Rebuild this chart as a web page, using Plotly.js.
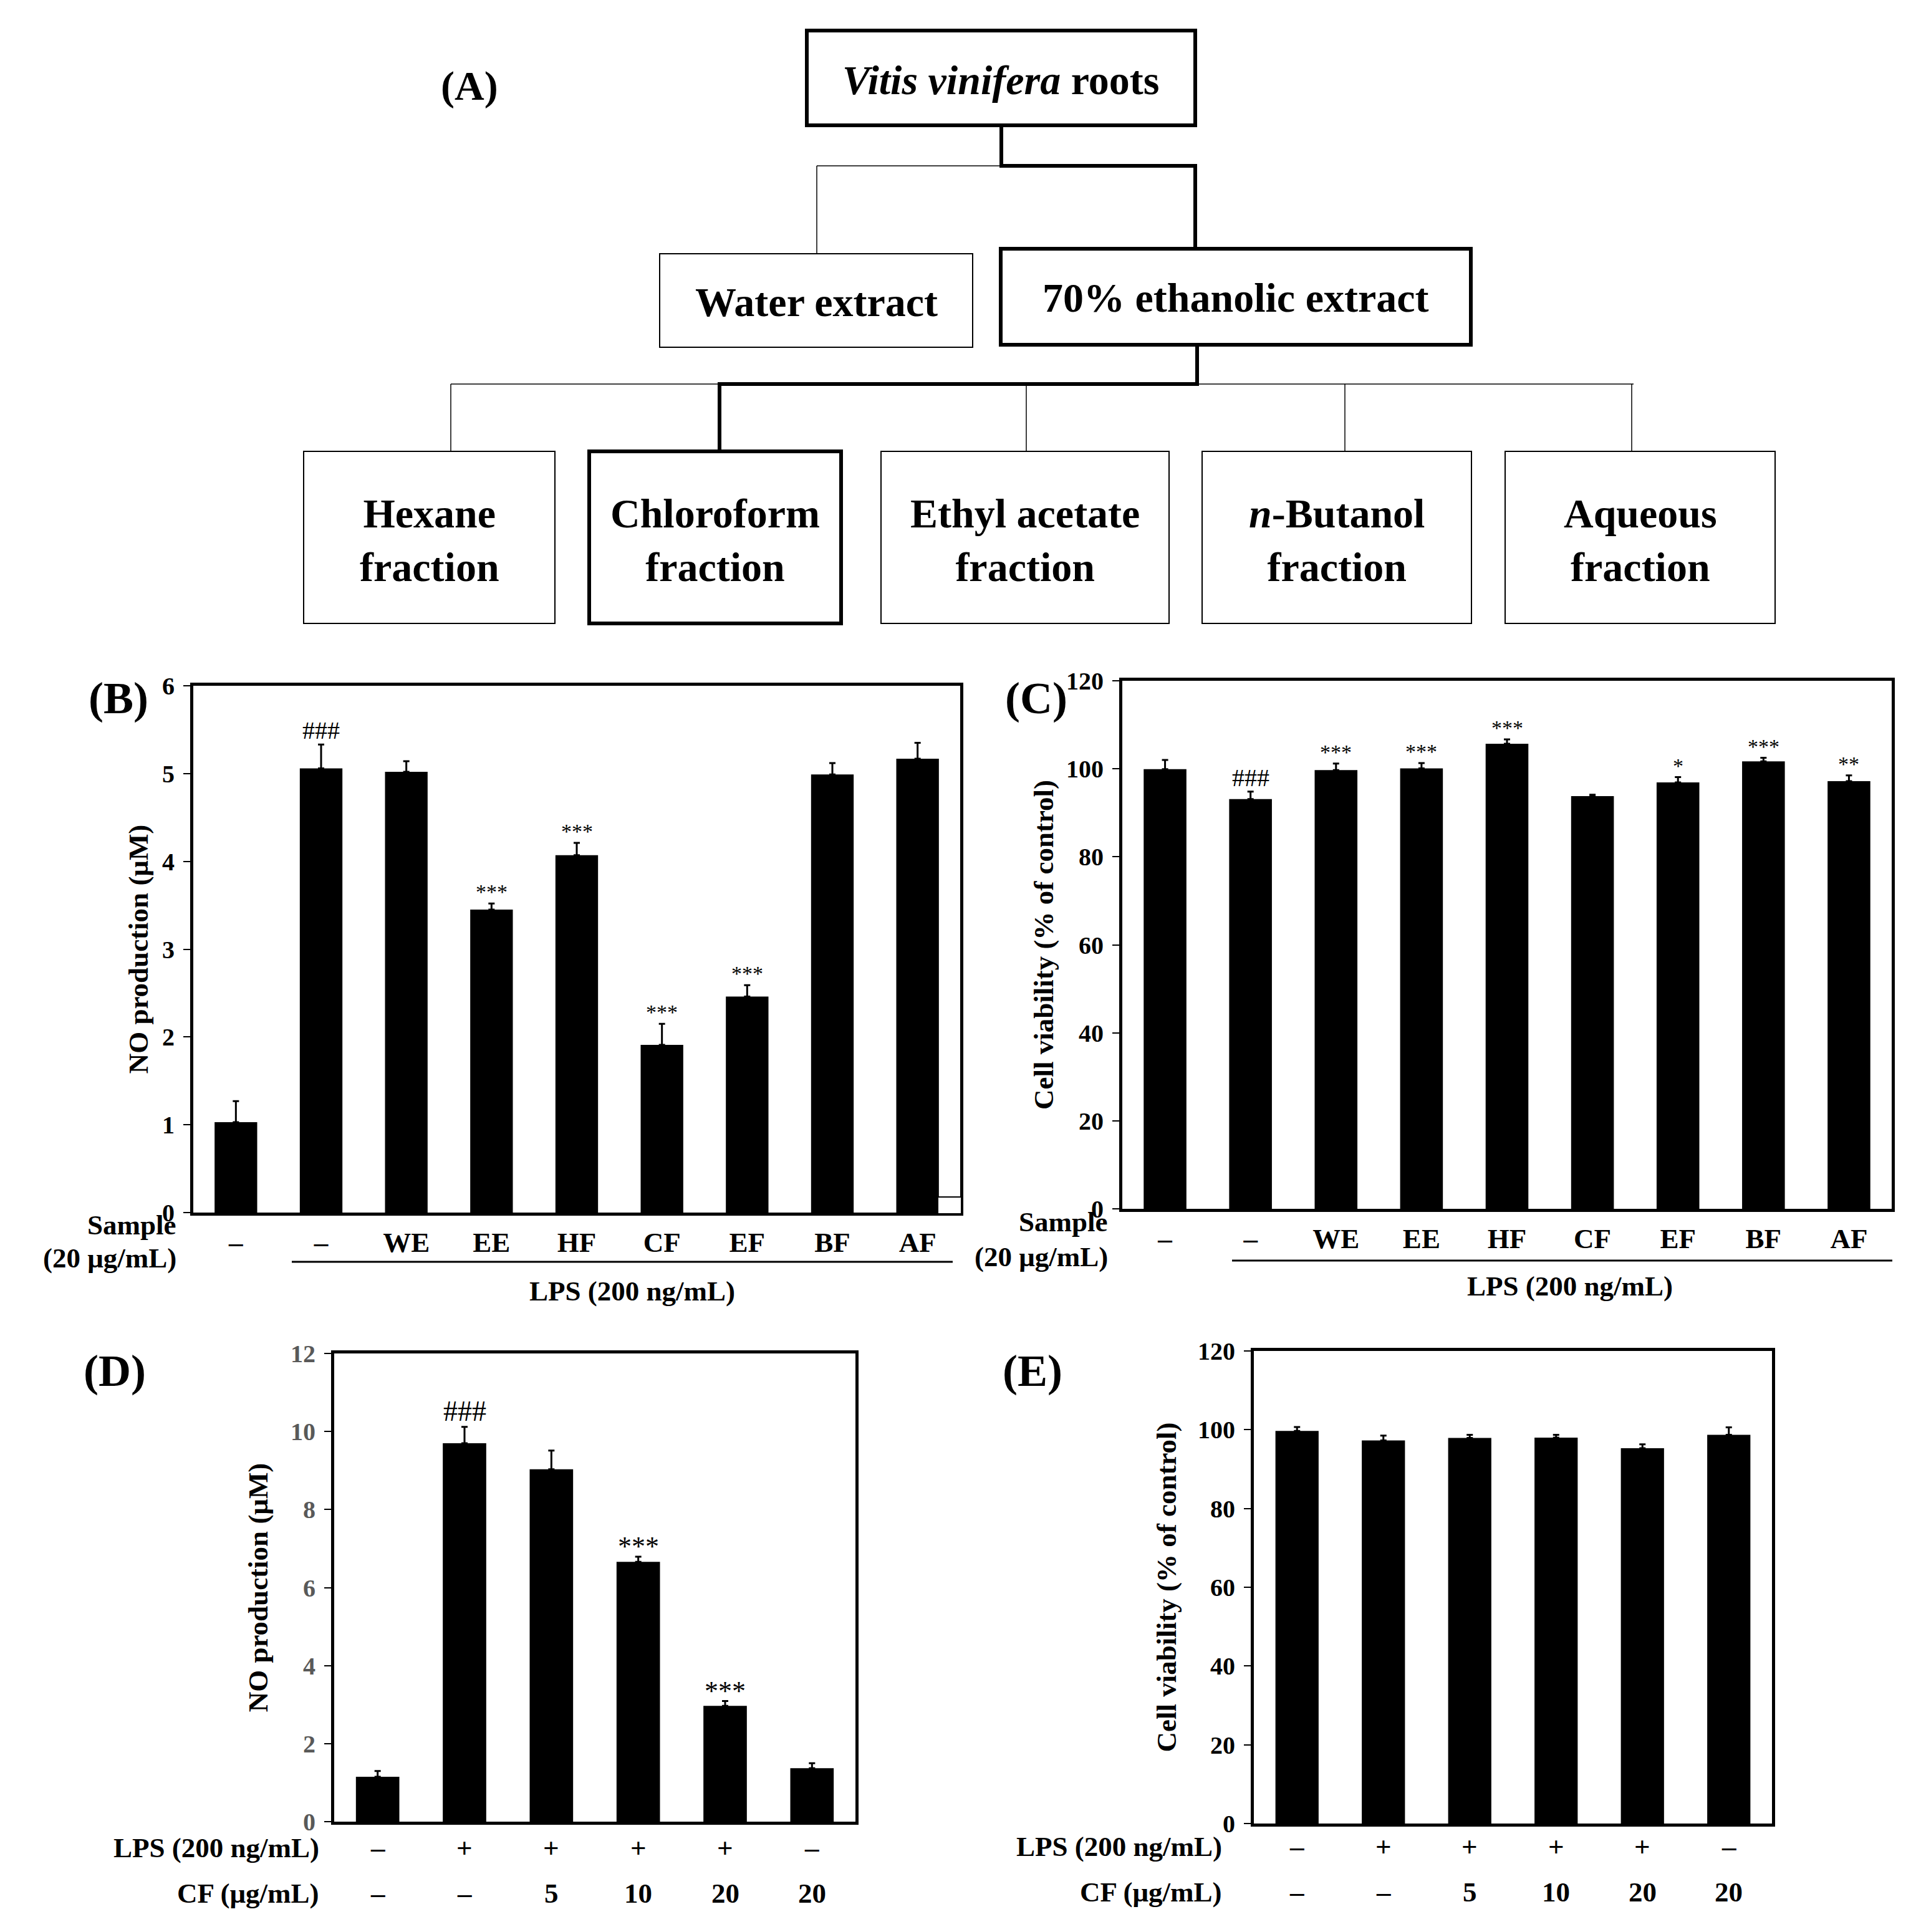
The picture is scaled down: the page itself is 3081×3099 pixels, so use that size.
<!DOCTYPE html>
<html>
<head>
<meta charset="utf-8">
<script src="https://cdn.plot.ly/plotly-3.0.1.min.js"></script>
<style>html,body{margin:0;padding:0;background:#fff;}#chart{width:3081px;height:3099px;}</style>
</head>
<body>
<div id="chart"></div>
<script>
// ---------------- DATA ----------------
// Panel B: NO production (µM)
const bCategories = ['Control', 'LPS', 'WE', 'EE', 'HF', 'CF', 'EF', 'BF', 'AF'];
const bLabels = ['–', '–', 'WE', 'EE', 'HF', 'CF', 'EF', 'BF', 'AF'];
const bValues = [1.03, 5.06, 5.02, 3.45, 4.07, 1.91, 2.46, 4.99, 5.17];
const bErrors = [0.24, 0.27, 0.12, 0.07, 0.14, 0.24, 0.13, 0.13, 0.18];
const bMarks = ['', '###', '', '***', '***', '***', '***', '', ''];

// Panel C: Cell viability (% of control)
const cCategories = bCategories;
const cLabels = bLabels;
const cValues = [99.9, 93.1, 99.7, 100.1, 105.7, 93.8, 96.9, 101.7, 97.2];
const cErrors = [2.1, 1.7, 1.5, 1.2, 1.0, 0.3, 1.2, 0.8, 1.3];
const cMarks = ['', '###', '***', '***', '***', '', '*', '***', '**'];

// Panels D & E: treatment rows
const lpsRow = ['–', '+', '+', '+', '+', '–'];
const cfRow = ['–', '–', '5', '10', '20', '20'];
const deCategories = lpsRow.map((l, i) => 'LPS ' + l + ' / CF ' + cfRow[i]);

// Panel D: NO production (µM)
const dValues = [1.15, 9.70, 9.03, 6.66, 2.97, 1.37];
const dErrors = [0.15, 0.42, 0.48, 0.13, 0.12, 0.13];
const dMarks = ['', '###', '', '***', '***', ''];

// Panel E: Cell viability (% of control)
const eValues = [99.7, 97.3, 97.9, 98.0, 95.3, 98.7];
const eErrors = [1.0, 1.2, 0.8, 0.7, 1.0, 1.9];

// Flowchart text (panel A)
const rootLabel = '<i>Vitis vinifera</i> roots';
const extractLabels = ['Water extract', '70% ethanolic extract'];
const fractionLabels = ['Hexane<br>fraction', 'Chloroform<br>fraction', 'Ethyl acetate<br>fraction', '<i>n</i>-Butanol<br>fraction', 'Aqueous<br>fraction'];

// ---------------- LAYOUT HELPERS ----------------
const W = 3081, H = 3099;
const px = x => x / W;
const py = y => 1 - y / H;
const FONT = 'Liberation Serif, Times New Roman, serif';
const BOLD = (size, color) => ({family: FONT, size: size, color: color || '#000', weight: 'bold'});

const shapes = [];
const annotations = [];

function rect(x0, y0, x1, y1, w) {
  shapes.push({type: 'rect', xref: 'paper', yref: 'paper', x0: px(x0), x1: px(x1), y0: py(y1), y1: py(y0),
    line: {color: '#000', width: w}, fillcolor: 'rgba(0,0,0,0)'});
}
function line(x0, y0, x1, y1, w) {
  shapes.push({type: 'line', xref: 'paper', yref: 'paper', x0: px(x0), x1: px(x1), y0: py(y0), y1: py(y1),
    line: {color: '#000', width: w}});
}
function text(t, x, y, size, opts) {
  annotations.push(Object.assign({text: t, xref: 'paper', yref: 'paper', x: px(x), y: py(y),
    showarrow: false, font: BOLD(size), xanchor: 'center', yanchor: 'middle'}, opts || {}));
}

// ---------------- PANEL A: flowchart ----------------
text('(A)', 753, 138, 66);
rect(1294, 49, 1917, 201, 6);
text(rootLabel, 1605, 128, 66);
line(1606, 201, 1606, 266, 6);
line(1310, 266, 1606, 266, 1.5);
line(1603, 266, 1920, 266, 6);
line(1917, 263, 1917, 399, 6);
line(1310, 266, 1310, 407, 1.5);
rect(1058, 407, 1560, 557, 2);
text(extractLabels[0], 1309, 484, 66);
rect(1605, 399, 2359, 553, 6);
text(extractLabels[1], 1982, 478, 66);
line(1920, 553, 1920, 616, 6);
line(723, 616, 2620, 616, 1.5);
line(1151, 616, 1923, 616, 6);
const fracBoxes = [[487, 890, 2], [945, 1349, 6], [1413, 1875, 2], [1928, 2360, 2], [2414, 2847, 2]];
const fracLinkX = [723, 1154, 1646, 2157, 2617];
fracBoxes.forEach((b, i) => {
  line(fracLinkX[i], 616, fracLinkX[i], 724, i === 1 ? 6 : 1.5);
  rect(b[0], 724, b[1], 1000, b[2]);
  text(fractionLabels[i], (b[0] + b[1]) / 2, 866, 66);
});

// ---------------- AXES ----------------
function yAxis(domain, range, dtick, anchor, title, tickColor, standoff) {
  return {domain: [py(domain[1]), py(domain[0])], range: range, dtick: dtick, tick0: 0, anchor: anchor,
    showline: true, mirror: true, linecolor: '#000', linewidth: 5, ticks: 'outside', ticklen: 11, tickwidth: 2,
    tickcolor: '#000', showgrid: false, zeroline: false, fixedrange: true,
    tickfont: BOLD(40, tickColor), ticklabelstandoff: 6,
    title: {text: title, font: BOLD(45), standoff: standoff}};
}
function xAxis(domain, anchor, cats, labels, showLabels) {
  return {domain: [px(domain[0]), px(domain[1])], anchor: anchor, type: 'category',
    categoryorder: 'array', categoryarray: cats, tickvals: cats, ticktext: labels || cats,
    showline: true, mirror: true, linecolor: '#000', linewidth: 5, ticks: '', showgrid: false,
    zeroline: false, fixedrange: true, showticklabels: !!showLabels, tickfont: BOLD(45), ticklabelstandoff: 4};
}

const layout = {
  width: W, height: H, margin: {l: 0, r: 0, t: 0, b: 0}, paper_bgcolor: '#fff', plot_bgcolor: '#fff',
  showlegend: false, bargap: 0.5, font: {family: FONT, color: '#000'},
  xaxis: xAxis([310, 1540], 'y', bCategories, bLabels, true),
  yaxis: yAxis([1100, 1945], [0, 6], 1, 'x', 'NO production (μM)', '#000', 10),
  xaxis2: xAxis([1800, 3034], 'y2', cCategories, cLabels, true),
  yaxis2: yAxis([1092, 1939], [0, 120], 20, 'x2', 'Cell viability (% of control)', '#000', 8),
  xaxis3: xAxis([536, 1372], 'y3', deCategories, null, false),
  yaxis3: yAxis([2171, 2922], [0, 12], 2, 'x3', 'NO production (μM)', '#595959', 24),
  xaxis4: xAxis([2011, 2842], 'y4', deCategories, null, false),
  yaxis4: yAxis([2167, 2925], [0, 120], 20, 'x4', 'Cell viability (% of control)', '#000', 22),
  shapes: shapes, annotations: annotations
};

// ---------------- PANEL LABELS & ROW LABELS ----------------
text('(B)', 190, 1120, 72);
text('(C)', 1662, 1120, 72);
text('(D)', 184, 2199, 72);
text('(E)', 1656, 2199, 72);

// B
text('Sample', 285, 1965, 45, {xanchor: 'right'});
text('(20 μg/mL)', 285, 2018, 45, {xanchor: 'right'});
line(468, 2024, 1528, 2024, 3);
text('LPS (200 ng/mL)', 1014, 2071, 45);
// white notch at bottom-right of panel B frame
shapes.push({type: 'rect', xref: 'paper', yref: 'paper', x0: px(1504), x1: px(1542), y0: py(1947), y1: py(1920),
  line: {color: '#000', width: 2}, fillcolor: '#fff', layer: 'above'});
// C
text('Sample', 1779, 1960, 45, {xanchor: 'right'});
text('(20 μg/mL)', 1779, 2016, 45, {xanchor: 'right'});
line(1976, 2022, 3035, 2022, 3);
text('LPS (200 ng/mL)', 2518, 2063, 45);
// D & E treatment rows
function treatmentRows(xref, rightX, yLps, yCf) {
  text('LPS (200 ng/mL)', rightX, yLps, 45, {xanchor: 'right'});
  text('CF (μg/mL)', rightX, yCf, 45, {xanchor: 'right'});
  deCategories.forEach((c, i) => {
    annotations.push({text: lpsRow[i], xref: xref, yref: 'paper', x: c, y: py(yLps), showarrow: false,
      font: BOLD(45), xanchor: 'center', yanchor: 'middle'});
    annotations.push({text: cfRow[i], xref: xref, yref: 'paper', x: c, y: py(yCf), showarrow: false,
      font: BOLD(45), xanchor: 'center', yanchor: 'middle'});
  });
}
treatmentRows('x3', 514, 2964, 3037);
treatmentRows('x4', 1962, 2962, 3035);

// significance marks
function marks(xref, yref, cats, vals, errs, mk, sizeHash, sizeStar, starShift) {
  cats.forEach((c, i) => {
    if (!mk[i]) return;
    const isHash = mk[i][0] === '#';
    annotations.push({text: mk[i], xref: xref, yref: yref, x: c, y: vals[i] + errs[i], showarrow: false,
      yanchor: 'bottom', xanchor: 'center', yshift: isHash ? -2 : starShift,
      font: {family: FONT, size: isHash ? sizeHash : sizeStar, color: '#000'}});
  });
}
marks('x', 'y', bCategories, bValues, bErrors, bMarks, 40, 34, -2);
marks('x2', 'y2', cCategories, cValues, cErrors, cMarks, 40, 34, -2);
marks('x3', 'y3', deCategories, dValues, dErrors, dMarks, 46, 44, -10);

// ---------------- TRACES ----------------
function bars(cats, vals, errs, xa, ya) {
  return {type: 'bar', x: cats, y: vals, xaxis: xa, yaxis: ya, marker: {color: '#000', line: {width: 0}},
    error_y: {type: 'data', symmetric: false, array: errs, arrayminus: errs.map(() => 0),
      color: '#000', thickness: 3, width: 5}, hoverinfo: 'x+y'};
}
const data = [
  bars(bCategories, bValues, bErrors, 'x', 'y'),
  bars(cCategories, cValues, cErrors, 'x2', 'y2'),
  bars(deCategories, dValues, dErrors, 'x3', 'y3'),
  bars(deCategories, eValues, eErrors, 'x4', 'y4')
];

Plotly.newPlot('chart', data, layout, {staticPlot: true, displayModeBar: false});
</script>
</body>
</html>
